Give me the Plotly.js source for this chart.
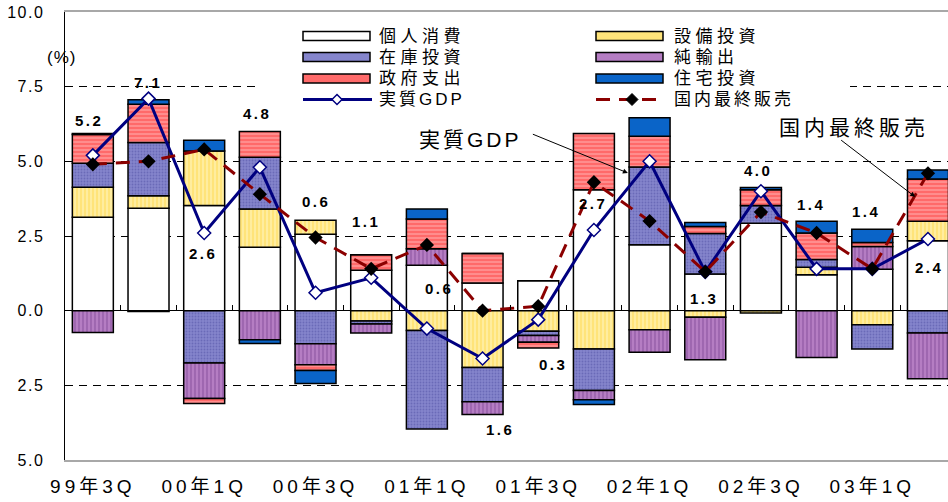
<!DOCTYPE html>
<html><head><meta charset="utf-8">
<script src="https://cdn.plot.ly/plotly-3.0.1.min.js"></script>
<style>html,body{margin:0;padding:0;background:#fff}#chart{width:948px;height:502px}</style>
</head><body><div id="chart"></div>
<script>
// ---- data ----
const categories = ['99年3Q','99年4Q','00年1Q','00年2Q','00年3Q','00年4Q','01年1Q','01年2Q','01年3Q','01年4Q','02年1Q','02年2Q','02年3Q','02年4Q','03年1Q','03年2Q'];
const tickLabels = ['99年3Q','00年1Q','00年3Q','01年1Q','01年3Q','02年1Q','02年3Q','03年1Q'];
const consumption = [3.13, 3.43, 3.52, 2.12, 2.56, 1.35, 1.52, 0.93, 1.00, 4.05, 2.21, 1.23, 2.93, 1.20, 1.39, 2.34];
const capex       = [1.00, 0.42, 1.83, 1.28, 0.47, -0.35, -0.66, -1.90, -0.69, -1.28, -0.64, -0.22, -0.08, 0.25, -0.47, 0.65];
const inventory   = [0.81, 1.78, -1.75, 1.74, -1.11, -0.10, -3.30, -1.15, -0.14, -1.39, 2.60, 1.35, 0.59, 0.26, -0.81, -0.75];
const netExports  = [-0.73, -0.03, -1.19, -0.97, -0.70, -0.30, 0.55, -0.43, -0.23, -0.31, -0.75, -1.42, 0.00, -1.57, 0.76, -1.53];
const government  = [0.96, 1.28, -0.17, 0.86, -0.19, 0.52, 1.00, 0.98, -0.19, 1.88, 1.03, 0.24, 0.53, 0.89, 0.13, 1.42];
const housing     = [0.03, 0.15, 0.36, -0.13, -0.44, 0.00, 0.33, 0.00, 0.00, -0.16, 0.62, 0.13, 0.07, 0.39, 0.45, 0.30];
const realGDP     = [5.2, 7.1, 2.6, 4.8, 0.6, 1.1, -0.6, -1.6, -0.3, 2.7, 5.0, 1.3, 4.0, 1.4, 1.4, 2.4];
const finalSales  = [4.9, 5.0, 5.4, 3.9, 2.45, 1.4, 2.2, 0.0, 0.15, 4.3, 3.0, 1.3, 3.3, 2.6, 1.4, 4.6];
const seriesNames = ['個人消費','設備投資','在庫投資','純輸出','政府支出','住宅投資','実質GDP','国内最終販売'];
const yTickVals  = [-5, -2.5, 0, 2.5, 5, 7.5, 10];
const yTickText  = ['5.0','2.5','0.0','2.5','5.0','7.5','10.0'];

// ---- styling ----
const FONT = 'Arial, "Liberation Sans", "Noto Sans CJK JP", sans-serif';
const sp = (t, px) => '<span style="letter-spacing:' + px + 'px">' + t + '</span>';
const idx = categories.map((_, i) => i);
const X0 = -0.5, X1 = 15.36;
const barStyles = [
  {color: '#FFFFFF'},
  {color: '#FFE47A', pattern: {shape: '|', bgcolor: '#FFE47A', fgcolor: '#FFF3B8', size: 4, solidity: 0.3}},
  {color: '#8585CC', pattern: {shape: '.', bgcolor: '#8585CC', fgcolor: '#6A6AB8', size: 3, solidity: 0.3}},
  {color: '#B57DC3', pattern: {shape: '|', bgcolor: '#B57DC3', fgcolor: '#955EA8', size: 4, solidity: 0.35}},
  {color: '#FF6A6A', pattern: {shape: '-', bgcolor: '#FF6A6A', fgcolor: '#FF9C9C', size: 4, solidity: 0.35}},
  {color: '#0A64C8'}
];
const legendColors = ['#FFFFFF', '#FFE47A', '#8585CC', '#B57DC3', '#FF6A6A', '#0A64C8'];
const barSeries = [consumption, capex, inventory, netExports, government, housing];

const traces = barSeries.map((vals, k) => ({
  type: 'bar', x: idx, y: vals, name: seriesNames[k],
  marker: Object.assign({}, barStyles[k], {line: {color: '#000', width: 1.5}}),
  hoverinfo: 'skip', showlegend: false
}));
traces.push({
  type: 'scatter', mode: 'lines+markers', x: idx, y: realGDP, name: seriesNames[6],
  line: {color: '#000080', width: 3},
  marker: {symbol: 'diamond', size: 10, color: '#FFFFFF', line: {color: '#000080', width: 1.5}},
  hoverinfo: 'skip', showlegend: false
});
traces.push({
  type: 'scatter', mode: 'lines+markers', x: idx, y: finalSales, name: seriesNames[7],
  line: {color: '#8B0000', width: 3, dash: '14px,9px'},
  marker: {symbol: 'diamond', size: 11, color: '#000000'},
  hoverinfo: 'skip', showlegend: false
});
// carrier for the zero-line tick axis (draws nothing)
traces.push({type: 'scatter', mode: 'none', x: idx, y: realGDP, xaxis: 'x2', yaxis: 'y', hoverinfo: 'skip', showlegend: false});

// pixel -> paper helpers for decorations
const PX = p => (p - 65) / 883;
const PY = p => (460 - p) / 448;

// GDP value labels (shown without sign), offsets in px
const labelShift = [[-4,35],[-1,16],[-1,-20],[-3,54],[0,91],[-5,56],[12,40],[17,-71],[15,-45],[-1,27],null,[-1,-27],[-3,21],[-6,64],[-6,57],[1,-29]];
const annotations = [];
realGDP.forEach((v, i) => {
  const s = labelShift[i];
  if (!s) return;
  annotations.push({x: idx[i], y: v, xref: 'x', yref: 'y', text: '<b>' + sp(Math.abs(v).toFixed(1), 2.5) + '</b>',
    xanchor: 'center', yanchor: 'middle',
    showarrow: false, xshift: s[0], yshift: s[1], font: {family: FONT, size: 15, color: '#000'}});
});
// (%) label
annotations.push({xref: 'paper', yref: 'paper', x: PX(61), y: PY(58), xanchor: 'center', yanchor: 'middle', text: sp('(%)', 1), showarrow: false,
  font: {family: FONT, size: 17, color: '#000'}});
// callouts
annotations.push({xref: 'paper', yref: 'paper', x: PX(470), y: PY(139), xanchor: 'center', yanchor: 'middle', text: sp(seriesNames[6], 3), showarrow: false,
  font: {family: FONT, size: 21, color: '#000'}});
annotations.push({xref: 'paper', yref: 'paper', x: PX(854), y: PY(128), xanchor: 'center', yanchor: 'middle', text: sp(seriesNames[7], 4), showarrow: false,
  font: {family: FONT, size: 21, color: '#000'}});
annotations.push({xref: 'x', yref: 'y', x: 9.61, y: 4.61, ax: -98, ay: -40, text: ' ', showarrow: true,
  arrowhead: 2, arrowsize: 1, arrowwidth: 1, arrowcolor: '#000', standoff: 0, startstandoff: 0});
annotations.push({xref: 'x', yref: 'y', x: 14.77, y: 3.81, ax: -77, ay: -59, text: ' ', showarrow: true,
  arrowhead: 2, arrowsize: 1, arrowwidth: 1, arrowcolor: '#000', standoff: 0, startstandoff: 0});

// custom legend
const shapes = [];
shapes.push({type: 'rect', xref: 'paper', yref: 'paper', x0: PX(258), x1: PX(850), y0: PY(110), y1: PY(13),
  fillcolor: '#FFFFFF', line: {width: 0}, layer: 'above'});
const rows = [36, 57, 78.5, 99.5];
const cols = [{bx0: 303, bx1: 370, tx: 377, mk: 337, items: [0, 2, 4, 6]}, {bx0: 596, bx1: 663, tx: 672, mk: 632, items: [1, 3, 5, 7]}];
cols.forEach(c => {
  c.items.forEach((k, r) => {
    const yc = rows[r];
    if (k < 6) {
      shapes.push({type: 'rect', xref: 'paper', yref: 'paper', x0: PX(c.bx0), x1: PX(c.bx1), y0: PY(yc + 4.5), y1: PY(yc - 4.5),
        fillcolor: legendColors[k], line: {color: '#000', width: 1.5}, layer: 'above'});
    } else if (k === 6) {
      shapes.push({type: 'line', xref: 'paper', yref: 'paper', x0: PX(c.bx0), x1: PX(c.bx1 + 2), y0: PY(yc), y1: PY(yc),
        line: {color: '#000080', width: 3}, layer: 'above'});
      shapes.push({type: 'path', xref: 'paper', yref: 'paper', xsizemode: 'pixel', ysizemode: 'pixel',
        xanchor: PX(c.mk), yanchor: PY(yc), path: 'M -5 0 L 0 5 L 5 0 L 0 -5 Z',
        fillcolor: '#FFFFFF', line: {color: '#000080', width: 1.5}, layer: 'above'});
    } else {
      shapes.push({type: 'line', xref: 'paper', yref: 'paper', x0: PX(c.bx0), x1: PX(c.bx1), y0: PY(yc), y1: PY(yc),
        line: {color: '#8B0000', width: 3, dash: '14px,9px'}, layer: 'above'});
      shapes.push({type: 'path', xref: 'paper', yref: 'paper', xsizemode: 'pixel', ysizemode: 'pixel',
        xanchor: PX(c.mk), yanchor: PY(yc), path: 'M -6 0 L 0 6 L 6 0 L 0 -6 Z',
        fillcolor: '#000000', line: {color: '#000', width: 1}, layer: 'above'});
    }
    annotations.push({xref: 'paper', yref: 'paper', x: PX(c.tx), y: PY(yc), xanchor: 'left', yanchor: 'middle',
      text: sp(seriesNames[k], k >= 6 ? 3 : 4.5), showarrow: false, font: {family: FONT, size: 17, color: '#000'}});
  });
});

const layout = {
  width: 948, height: 502,
  margin: {l: 65, r: 0, t: 12, b: 42, pad: 0},
  paper_bgcolor: '#FFFFFF', plot_bgcolor: '#FFFFFF',
  barmode: 'relative', bargap: 0.264,
  font: {family: FONT, color: '#000'},
  showlegend: false,
  xaxis: {
    range: [X0, X1], tickmode: 'array',
    tickvals: idx.filter(i => i % 2 === 0),
    ticktext: tickLabels.map(t => sp(t, 4)),
    ticks: '', ticklabelstandoff: 8,
    tickfont: {family: FONT, size: 19, color: '#000'},
    showgrid: false, zeroline: false,
    showline: true, linecolor: '#A8A8A8', linewidth: 2, mirror: true
  },
  xaxis2: {
    overlaying: 'x', anchor: 'free', position: 1 / 3, side: 'bottom',
    range: [X0, X1], tickmode: 'array', tickvals: idx.map(i => i + 0.5),
    ticks: 'inside', ticklen: 6, tickwidth: 1, tickcolor: '#000',
    showticklabels: false, showgrid: false, zeroline: false, showline: false
  },
  yaxis: {
    range: [-5, 10], tickmode: 'array', tickvals: yTickVals, ticktext: yTickText.map(t => sp(t, 1.5)),
    ticks: '', ticklabelstandoff: 16,
    tickfont: {family: FONT, size: 16, color: '#000'},
    showgrid: true, gridcolor: '#000', gridwidth: 1, griddash: '8px,6px',
    zeroline: true, zerolinecolor: '#000', zerolinewidth: 1.2,
    showline: true, linecolor: '#000', linewidth: 1.5
  },
  shapes: shapes,
  annotations: annotations
};

Plotly.newPlot('chart', traces, layout, {displayModeBar: false, staticPlot: true});
</script>
</body></html>
